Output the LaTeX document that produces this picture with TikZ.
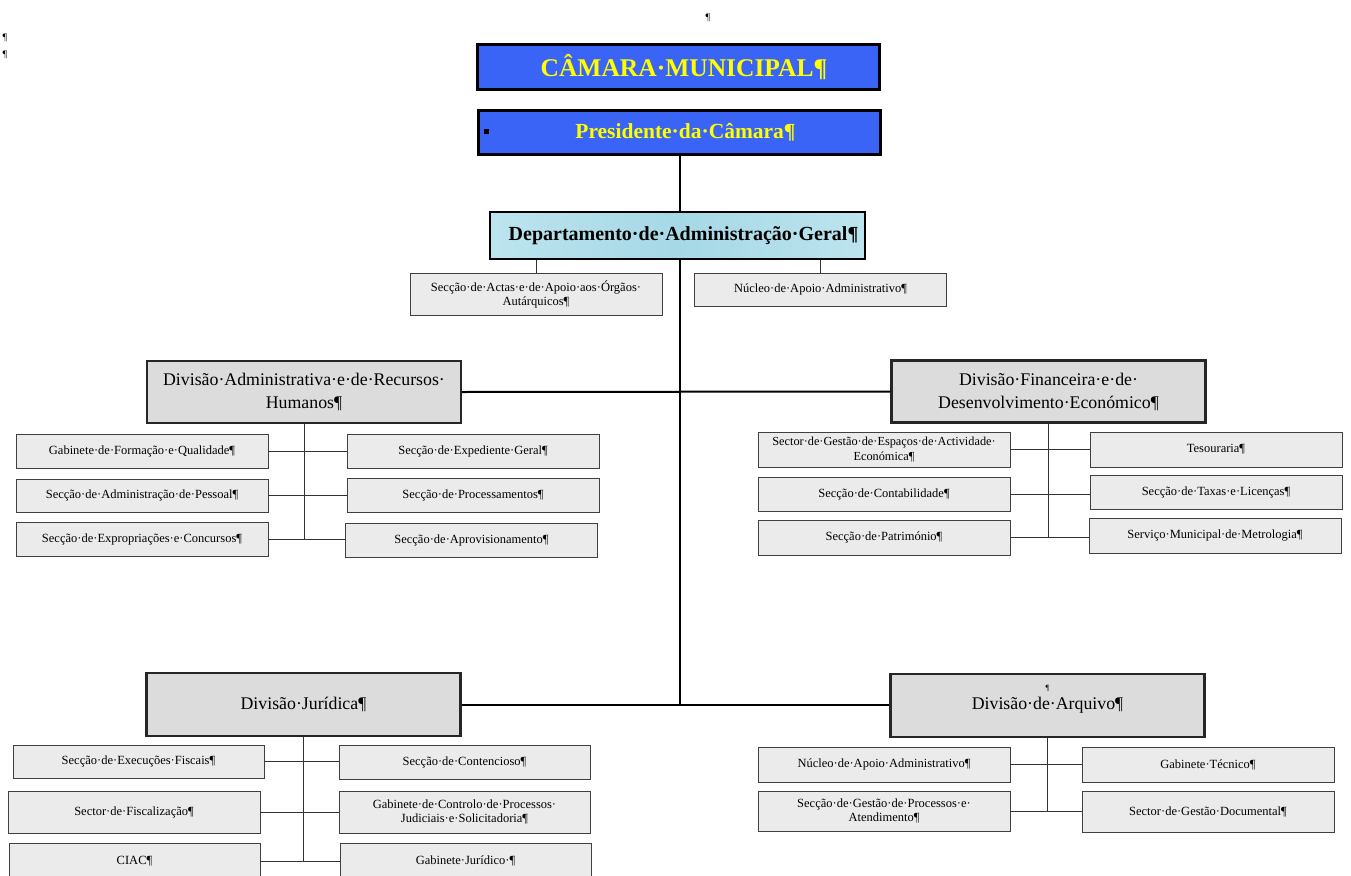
\documentclass[tikz,border=0pt]{standalone}
\usepackage{fontspec}
\setmainfont{Liberation Serif}
\definecolor{topblue}{HTML}{3A64F6}
\definecolor{titleyellow}{HTML}{FFFF00}
\definecolor{divgray}{HTML}{DCDCDC}
\definecolor{subgray}{HTML}{EBEBEB}
\definecolor{depcyan}{HTML}{BCE4EE}
\definecolor{depcyan2}{HTML}{A6D8E6}
\tikzset{
  topbox/.style={draw=black, line width=3pt, fill=topblue, text=titleyellow, inner sep=0pt, align=center, minimum width=402, minimum height=44},
  divbox/.style={draw=black!85, line width=2.4pt, fill=divgray, inner sep=0pt, align=center, font=\fontsize{17.8}{23}\selectfont, minimum width=314, minimum height=62},
  subbox/.style={draw=black!75, line width=0.8pt, fill=subgray, inner sep=0pt, align=center, font=\fontsize{12.5}{14}\selectfont, minimum width=252, minimum height=34},
  mainline/.style={line width=2.6pt, black},
  divline/.style={line width=2pt, black},
  subline/.style={line width=1pt, black!80},
  pmark/.style={font=\fontsize{10}{10}\selectfont, inner sep=0pt},
}
\begin{document}
\begin{tikzpicture}[x=1pt, y=-1pt]
\useasboundingbox (0,0) rectangle (1351,875);
\clip (0,0) rectangle (1351,875);
\fill[white] (0,0) rectangle (1351,875);

% formatting marks
\node[pmark] (p0) at (708,18) {¶};
\node[pmark] (p1) at (5,38) {¶};
\node[pmark] (p2) at (5,55) {¶};

% top boxes
\node[topbox, font=\bfseries\fontsize{25.5}{27}\selectfont] (cam) at (678,67) {\hspace*{12pt}CÂMARA·MUNICIPAL¶};
\node[topbox, font=\bfseries\fontsize{21.5}{23}\selectfont] (pres) at (679.5,132) {\hspace*{12pt}Presidente·da·Câmara¶};
\node[fill=black, minimum size=5, inner sep=0pt] (pmk) at (486,131) {};

% department
\node[draw=black, line width=2.6pt, left color=depcyan, right color=depcyan, middle color=depcyan2, inner sep=0pt, minimum width=375, minimum height=47, font=\bfseries\fontsize{20}{22}\selectfont] (dep) at (677.5,235.5) {\hspace*{12pt}Departamento·de·Administração·Geral¶};
\node[subbox, minimum height=42] (actas) at (536,294) {Secção·de·Actas·e·de·Apoio·aos·Órgãos·\\Autárquicos¶};
\node[subbox, minimum height=33] (nuc) at (820.5,289.5) {Núcleo·de·Apoio·Administrativo¶};

% divisions
\node[divbox] (dadm) at (304,392) {Divisão·Administrativa·e·de·Recursos·\\Humanos¶};
\node[divbox] (dfin) at (1048.5,391.5) {Divisão·Financeira·e·de·\\Desenvolvimento·Económico¶};
\node[divbox, minimum height=63] (djur) at (303.5,704.5) {Divisão·Jurídica¶};
\node[divbox, minimum height=63] (darq) at (1047.5,705.5) {Divisão·de·Arquivo¶};
\node[pmark, font=\fontsize{8}{8}\selectfont] (darqp) at (1047.5,688) {¶};

% main connectors
\coordinate (jb) at (680,705);
\draw[mainline] (jb |- pres.south) -- (jb |- dep.north);
\draw[mainline] (jb |- dep.south) -- (jb);
\draw[divline] (dadm.east) -- (dfin.west);
\draw[divline] (djur.east |- jb) -- (darq.west |- jb);
\draw[subline] (dep.south -| actas.north) -- (actas.north);
\draw[subline] (dep.south -| nuc.north) -- (nuc.north);

% Divisão Administrativa children
\node[subbox] (a1) at (142,451) {Gabinete·de·Formação·e·Qualidade¶};
\node[subbox, minimum height=33] (a2) at (142,495.5) {Secção·de·Administração·de·Pessoal¶};
\node[subbox] (a3) at (142,539) {Secção·de·Expropriações·e·Concursos¶};
\node[subbox] (b1) at (473,451) {Secção·de·Expediente·Geral¶};
\node[subbox] (b2) at (473,495) {Secção·de·Processamentos¶};
\node[subbox] (b3) at (471.5,540) {Secção·de·Aprovisionamento¶};
\draw[subline] (dadm.south) -- (dadm.south |- a3.east);
\draw[subline] (a1.east) -- (a1.east -| b1.west);
\draw[subline] (a2.east) -- (a2.east -| b2.west);
\draw[subline] (a3.east) -- (a3.east -| b3.west);

% Divisão Financeira children
\node[subbox, minimum height=35, font=\fontsize{12.3}{15}\selectfont] (c1) at (884,449.5) {Sector·de·Gestão·de·Espaços·de·Actividade·\\Económica¶};
\node[subbox] (c2) at (884,494) {Secção·de·Contabilidade¶};
\node[subbox, minimum height=35] (c3) at (884,537.5) {Secção·de·Património¶};
\node[subbox, minimum height=35] (d1) at (1216,449.5) {Tesouraria¶};
\node[subbox] (d2) at (1216,492) {Secção·de·Taxas·e·Licenças¶};
\node[subbox, minimum height=35] (d3) at (1215,535.5) {Serviço·Municipal·de·Metrologia¶};
\draw[subline] (dfin.south) -- (dfin.south |- c3.east);
\draw[subline] (c1.east) -- (c1.east -| d1.west);
\draw[subline] (c2.east) -- (c2.east -| d2.west);
\draw[subline] (c3.east) -- (c3.east -| d3.west);

% Divisão Jurídica children
\node[subbox, minimum width=251, minimum height=33] (e1) at (138.5,761.5) {Secção·de·Execuções·Fiscais¶};
\node[subbox, minimum height=42] (e2) at (134,812) {Sector·de·Fiscalização¶};
\node[subbox, minimum width=251, minimum height=36] (e3) at (134.5,861) {CIAC¶};
\node[subbox, minimum width=251] (f1) at (464.5,762) {Secção·de·Contencioso¶};
\node[subbox, minimum width=251, minimum height=42] (f2) at (464.5,812) {Gabinete·de·Controlo·de·Processos·\\Judiciais·e·Solicitadoria¶};
\node[subbox, minimum width=251, minimum height=36] (f3) at (465.5,861) {Gabinete·Jurídico·¶};
\draw[subline] (djur.south) -- (djur.south |- e3.east);
\draw[subline] (e1.east) -- (e1.east -| f1.west);
\draw[subline] (e2.east) -- (e2.east -| f2.west);
\draw[subline] (e3.east) -- (e3.east -| f3.west);

% Divisão de Arquivo children
\node[subbox, minimum height=35] (g1) at (884,764.5) {Núcleo·de·Apoio·Administrativo¶};
\node[subbox, minimum height=40] (g2) at (884,811) {Secção·de·Gestão·de·Processos·e·\\Atendimento¶};
\node[subbox, minimum height=35] (h1) at (1208,764.5) {Gabinete·Técnico¶};
\node[subbox, minimum height=41] (h2) at (1208,811.5) {Sector·de·Gestão·Documental¶};
\draw[subline] (darq.south) -- (darq.south |- g2.east);
\draw[subline] (g1.east) -- (g1.east -| h1.west);
\draw[subline] (g2.east) -- (g2.east -| h2.west);
\end{tikzpicture}
\end{document}
